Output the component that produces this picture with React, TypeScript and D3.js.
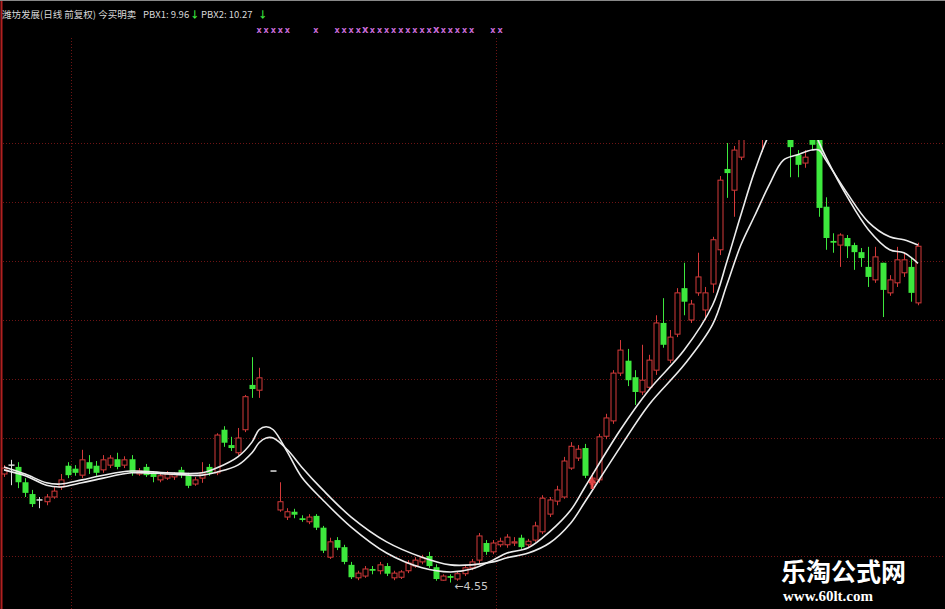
import React, { useEffect, useRef } from 'react';
import * as d3 from 'd3';

const W = 945, H = 609;

// OHLC per trading day (index 37 = no candle)
const opens: (number | null)[] = [6.39,6.54,6.51,6.25,6.05,5.95,5.92,6.00,6.17,6.53,6.48,6.37,6.59,6.53,6.46,6.54,6.64,6.54,6.64,6.39,6.51,6.39,6.29,6.32,6.34,6.46,6.37,6.22,6.32,6.51,6.41,7.14,6.88,6.75,7.14,7.90,7.81,null,6.44,5.78,5.66,5.75,5.64,5.58,5.68,5.48,4.98,5.27,5.15,4.85,4.63,4.66,4.78,4.75,4.83,4.63,4.64,4.75,4.83,4.90,5.00,4.81,4.59,4.66,4.61,4.70,4.80,4.93,5.22,5.07,5.19,5.19,5.22,5.31,5.19,5.27,5.41,5.71,5.93,6.00,6.49,6.66,6.83,6.22,6.29,7.03,7.29,8.10,8.31,8.03,7.78,7.86,8.15,8.95,8.32,8.76,9.54,9.00,9.46,9.17,9.61,10.19,11.56,11.20,11.76,12.14,12.81,12.39,12.64,13.07,12.39,12.22,11.80,11.66,12.22,12.14,10.92,10.34,10.27,10.39,10.27,10.15,9.90,9.68,9.97,9.46,9.63,9.80,9.90,9.29];
const closes: (number | null)[] = [6.49,6.54,6.25,6.07,5.88,5.95,6.00,6.10,6.29,6.37,6.41,6.63,6.48,6.41,6.63,6.66,6.51,6.63,6.41,6.44,6.37,6.34,6.36,6.39,6.39,6.37,6.19,6.29,6.41,6.41,7.05,6.92,6.83,7.00,7.70,7.83,8.02,null,6.44,5.92,5.75,5.70,5.61,5.66,5.48,5.09,5.24,5.14,4.90,4.64,4.71,4.78,4.75,4.85,4.70,4.71,4.73,4.88,4.93,4.97,4.83,4.61,4.66,4.63,4.70,4.80,4.90,5.34,5.07,5.22,5.25,5.32,5.24,5.15,5.25,5.51,5.98,5.95,6.12,6.61,6.86,6.81,6.36,6.32,7.02,7.34,8.10,8.49,7.98,7.78,7.98,8.32,8.95,8.58,8.71,9.46,9.31,9.27,9.73,9.46,10.36,11.37,11.49,11.88,12.14,12.73,12.31,12.90,13.15,12.56,12.90,11.93,11.63,11.76,11.97,10.90,10.39,10.31,10.44,10.25,10.15,10.05,9.73,10.07,9.51,9.68,10.02,10.02,9.46,10.25];
const highs: (number | null)[] = [6.54,6.63,6.59,6.32,6.12,6.00,6.05,6.17,6.39,6.59,6.54,6.80,6.71,6.61,6.71,6.71,6.75,6.69,6.71,6.49,6.56,6.44,6.39,6.44,6.42,6.51,6.41,6.34,6.59,6.56,7.08,7.20,7.02,7.17,7.73,8.37,8.19,null,6.44,6.25,5.81,5.80,5.69,5.71,5.71,5.51,5.31,5.32,5.19,4.90,4.75,4.83,4.83,4.90,4.88,4.75,4.76,4.93,4.98,5.02,5.07,4.86,4.69,4.69,4.73,4.83,4.95,5.39,5.27,5.27,5.31,5.37,5.32,5.36,5.29,5.58,6.03,6.00,6.19,6.68,6.93,6.88,6.90,6.41,7.07,7.41,8.15,8.66,8.51,8.15,8.58,8.41,9.08,9.37,8.83,9.54,9.97,9.34,10.14,9.56,10.41,11.44,12.00,11.95,12.31,12.90,12.98,13.07,13.24,13.15,12.98,12.47,11.88,11.88,12.31,12.22,11.08,10.47,10.47,10.44,10.31,10.22,10.24,10.24,9.97,9.76,10.24,10.14,10.07,10.31];
const lows: (number | null)[] = [6.34,6.20,6.15,6.00,5.83,5.81,5.86,5.97,6.12,6.32,6.36,6.32,6.39,6.36,6.41,6.49,6.47,6.49,6.36,6.36,6.34,6.25,6.25,6.29,6.29,6.32,6.15,6.19,6.24,6.36,6.37,6.85,6.78,6.71,7.10,7.68,7.68,null,6.44,5.75,5.61,5.64,5.58,5.54,5.44,5.05,4.95,5.10,4.86,4.61,4.59,4.63,4.69,4.69,4.66,4.59,4.61,4.71,4.80,4.86,4.80,4.58,4.58,4.55,4.58,4.66,4.76,4.88,5.02,5.03,5.15,5.14,5.17,5.12,5.15,5.24,5.37,5.66,5.86,5.97,6.46,6.61,6.32,6.17,6.24,6.98,7.24,8.05,7.88,7.56,7.73,7.81,8.07,8.53,8.27,8.71,9.08,8.95,9.41,9.00,9.46,10.10,11.07,10.75,11.71,12.10,12.19,11.85,12.31,12.22,12.14,11.42,11.42,11.58,11.88,10.75,10.19,10.14,9.90,10.05,9.85,9.90,9.56,9.63,9.05,9.41,9.56,9.73,9.31,9.25];

// PBX lines sampled at candle indices
const maIdx = [0,3,6,8,11,14,18,23,28,30,33,35,36,37,38,40,42,45,49,54,59,63,66,69,71,74,77,80,82,87,91,96,100,102,104,106,108,110,112,114,115,116,119,122,125,127,129];
const pbx1 = [6.51,6.39,6.24,6.22,6.29,6.37,6.44,6.41,6.41,6.49,6.68,6.93,7.14,7.19,7.14,6.76,6.34,5.95,5.49,5.05,4.80,4.73,4.78,4.93,5.05,5.14,5.41,5.78,6.17,7.14,7.81,8.49,9.25,9.98,10.78,11.54,12.14,12.48,12.56,12.31,12.02,11.76,11.09,10.53,10.19,10.14,9.96];
const pbx2 = [6.46,6.36,6.20,6.17,6.24,6.32,6.41,6.39,6.37,6.42,6.54,6.75,6.92,7.00,7.00,6.80,6.51,6.12,5.66,5.24,4.98,4.85,4.85,4.90,4.97,5.05,5.22,5.56,5.92,6.85,7.56,8.24,8.92,9.59,10.27,10.78,11.29,11.71,11.80,11.88,11.88,11.71,11.15,10.66,10.41,10.36,10.27];

const gridPrices = [5, 6, 7, 8, 9, 10, 11, 12];
const dividerIdx = [9, 69];
const sellSignals = [36,37,38,39,40,44,47,48,49,50,51,52,53,54,55,56,57,58,59,60,61,62,63,64,65,66,69,70];
const bigSellSignals = [51, 61];
const buySignals = [83];
const lowIdx = 63;
const lowLabel = '←4.55';
const titleMain = '潍坊发展(日线 前复权) 今买明卖';
const pbxNames = ['PBX1', 'PBX2'];
const pbxLast = ['9.96', '10.27'];

const RED = '#d43a3a';
const GREEN = '#3de83d';
const GRID = '#6e1414';

export default function App() {
  const ref = useRef<SVGSVGElement>(null);
  useEffect(() => {
    document.body.style.margin = '0';
    const svg = d3.select(ref.current);
    svg.selectAll('*').remove();
    const n = opens.length;
    const x = d3.scaleLinear().domain([0, n - 1]).range([4, 918]);
    const y = d3.scaleLinear().domain([5, 12]).range([556, 143]);

    svg.append('rect').attr('width', W).attr('height', H).attr('fill', '#000');
    const defs = svg.append('defs');
    defs.append('clipPath').attr('id', 'plotclip').append('rect')
      .attr('x', 0).attr('y', 140).attr('width', W).attr('height', H - 140);

    // grid
    const g = svg.append('g');
    gridPrices.forEach(p => {
      g.append('line').attr('x1', 3).attr('x2', W).attr('y1', Math.round(y(p)) + 0.5).attr('y2', Math.round(y(p)) + 0.5)
        .attr('stroke', GRID).attr('stroke-width', 1).attr('stroke-dasharray', '1,2');
    });
    dividerIdx.forEach(i => {
      const xx = Math.round((x(i) + x(i + 1)) / 2) + 0.5;
      g.append('line').attr('x1', xx).attr('x2', xx).attr('y1', 38).attr('y2', H)
        .attr('stroke', GRID).attr('stroke-width', 1).attr('stroke-dasharray', '1,2');
    });
    // frame
    svg.append('line').attr('x1', 1.5).attr('x2', 1.5).attr('y1', 0).attr('y2', H).attr('stroke', '#b02020').attr('stroke-width', 2);
    svg.append('line').attr('x1', 0).attr('x2', W).attr('y1', 0.5).attr('y2', 0.5).attr('stroke', '#888').attr('stroke-width', 1);

    const plot = svg.append('g').attr('clip-path', 'url(#plotclip)');
    const bw = 5;
    for (let i = 0; i < n; i++) {
      const o = opens[i], c = closes[i], h = highs[i], l = lows[i];
      if (o == null || c == null || h == null || l == null) continue;
      const cx = Math.round(x(i)) + 0.5;
      const up = c > o, down = c < o;
      const col = up ? RED : down ? GREEN : '#e0e0e0';
      const top = y(Math.max(o, c)), bot = y(Math.min(o, c));
      if (up) {
        plot.append('line').attr('x1', cx).attr('x2', cx).attr('y1', y(h)).attr('y2', top).attr('stroke', col);
        plot.append('line').attr('x1', cx).attr('x2', cx).attr('y1', bot).attr('y2', y(l)).attr('stroke', col);
        plot.append('rect').attr('x', cx - bw / 2).attr('y', top).attr('width', bw).attr('height', Math.max(1, bot - top))
          .attr('fill', '#000').attr('stroke', col).attr('stroke-width', 1);
      } else if (down) {
        plot.append('line').attr('x1', cx).attr('x2', cx).attr('y1', y(h)).attr('y2', y(l)).attr('stroke', col);
        plot.append('rect').attr('x', cx - bw / 2 - 0.5).attr('y', top).attr('width', bw + 1).attr('height', Math.max(1.5, bot - top))
          .attr('fill', col);
      } else {
        plot.append('line').attr('x1', cx).attr('x2', cx).attr('y1', y(h)).attr('y2', y(l)).attr('stroke', col);
        plot.append('line').attr('x1', cx - 3).attr('x2', cx + 3).attr('y1', top).attr('y2', top).attr('stroke', col).attr('stroke-width', 1.5);
      }
    }

    // PBX lines
    const line = d3.line<number>().x((_, k) => x(maIdx[k])).y(v => y(v)).curve(d3.curveCatmullRom.alpha(0.5));
    [pbx2, pbx1].forEach(arr => {
      plot.append('path').attr('d', line(arr) as string).attr('fill', 'none')
        .attr('stroke', '#ececec').attr('stroke-width', 1.6);
    });

    // buy signals
    buySignals.forEach(i => {
      const cx = x(i), cy = y(lows[i] as number) + 2;
      plot.append('path').attr('d', `M${cx},${cy - 12} L${cx + 4},${cy - 6} L${cx + 1.5},${cy - 6} L${cx + 1.5},${cy} L${cx - 1.5},${cy} L${cx - 1.5},${cy - 6} L${cx - 4},${cy - 6} Z`)
        .attr('fill', '#ff5050').attr('opacity', 0.85);
    });

    // low label
    svg.append('text').attr('x', x(lowIdx) + 4).attr('y', y(lows[lowIdx] as number) + 7)
      .attr('fill', '#c8c8c8').attr('font-size', 11).attr('font-family', 'DejaVu Sans, sans-serif').text(lowLabel);

    // sell markers
    sellSignals.forEach(i => {
      const big = bigSellSignals.includes(i);
      svg.append('text').attr('x', x(i)).attr('y', 33).attr('text-anchor', 'middle')
        .attr('fill', '#c66ad6').attr('font-size', big ? 10 : 8).attr('font-weight', 'bold')
        .attr('font-family', 'DejaVu Sans, sans-serif').text('x');
    });

    // title
    const font = '"Noto Sans CJK SC", sans-serif';
    svg.append('text').attr('x', 2).attr('y', 18).attr('font-size', 9.5).attr('font-family', font)
      .attr('fill', '#d8d8d8').text(titleMain);
    const pbxX = [143, 201];
    const arrowX = [190, 258];
    pbxNames.forEach((nm, k) => {
      svg.append('text').attr('x', pbxX[k]).attr('y', 18).attr('font-size', 9.5).attr('font-family', font)
        .attr('fill', '#d8d8d8').text(`${nm}: ${pbxLast[k]}`);
      svg.append('text').attr('x', arrowX[k]).attr('y', 18).attr('font-size', 9.5).attr('font-weight', 'bold')
        .attr('font-family', font).attr('fill', GREEN).text('↓');
    });

    // watermark
    svg.append('text').attr('x', 781).attr('y', 581).attr('fill', '#fff').attr('font-size', 25).attr('font-weight', 'bold')
      .attr('font-family', '"Noto Sans CJK SC", sans-serif').text('乐淘公式网');
    svg.append('text').attr('x', 783).attr('y', 601).attr('fill', '#fff').attr('font-size', 15).attr('font-weight', 'bold')
      .attr('font-family', '"Liberation Serif", serif').text('www.60lt.com');
  }, []);
  return <svg ref={ref} width={W} height={H} style={{ position: 'fixed', left: 0, top: 0, display: 'block' }} />;
}
